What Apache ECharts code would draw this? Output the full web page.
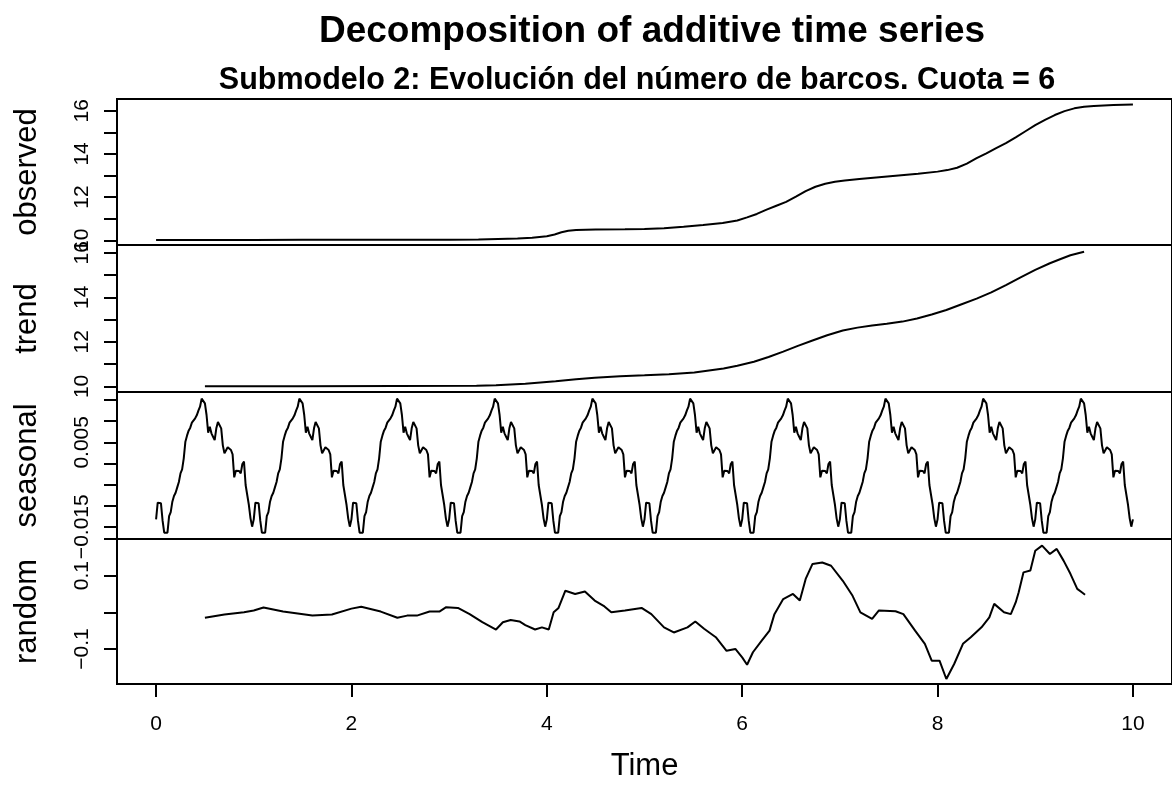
<!DOCTYPE html>
<html>
<head>
<meta charset="utf-8">
<script src="https://cdn.jsdelivr.net/npm/echarts@6/dist/echarts.min.js"></script>
<style>
  html, body { margin: 0; padding: 0; background: #fff; }
  #chart { width: 1172px; height: 786px; }
</style>
</head>
<body>
<div id="chart"></div>
<script>
// ---- data -------------------------------------------------------------
const mainTitle = 'Decomposition of additive time series';
const subTitle = 'Submodelo 2: Evolución del número de barcos. Cuota = 6';
const panelNames = ['observed', 'trend', 'seasonal', 'random'];
const xAxisName = 'Time';

// observed series: [time, value]
const observedPoints = [
  [0.0, 10.01], [0.5, 10.01], [1.0, 10.01], [1.5, 10.02], [2.0, 10.02], [2.5, 10.02],
  [3.0, 10.03], [3.3, 10.04], [3.5, 10.06], [3.7, 10.08], [3.85, 10.12], [4.0, 10.19],
  [4.08, 10.27], [4.15, 10.37], [4.22, 10.44], [4.3, 10.48], [4.5, 10.50], [4.8, 10.51],
  [5.0, 10.52], [5.2, 10.56], [5.4, 10.63], [5.6, 10.71], [5.8, 10.80], [5.95, 10.92],
  [6.05, 11.06], [6.15, 11.22], [6.25, 11.42], [6.35, 11.60], [6.45, 11.78], [6.55, 12.02],
  [6.65, 12.28], [6.75, 12.48], [6.85, 12.62], [6.95, 12.71], [7.05, 12.77], [7.2, 12.84],
  [7.4, 12.92], [7.6, 13.00], [7.8, 13.08], [8.0, 13.18], [8.1, 13.25], [8.2, 13.36],
  [8.3, 13.55], [8.4, 13.80], [8.5, 14.03], [8.6, 14.27], [8.7, 14.50], [8.8, 14.77],
  [8.9, 15.05], [9.0, 15.33], [9.1, 15.58], [9.2, 15.80], [9.3, 15.98], [9.4, 16.11],
  [9.5, 16.18], [9.6, 16.22], [9.8, 16.26], [10.0, 16.29]
];

// trend series (centred moving average, defined from 0.5 to 9.5)
const trendPoints = [
  [0.5, 10.01], [1.45, 10.01], [2.46, 10.02], [3.28, 10.03], [3.48, 10.05], [3.78, 10.12],
  [4.09, 10.23], [4.3, 10.32], [4.49, 10.39], [4.75, 10.46], [5.0, 10.50], [5.25, 10.55],
  [5.51, 10.62], [5.81, 10.80], [5.95, 10.93], [6.12, 11.11], [6.27, 11.32], [6.42, 11.56],
  [6.57, 11.82], [6.72, 12.06], [6.87, 12.30], [7.03, 12.51], [7.18, 12.64], [7.33, 12.73],
  [7.48, 12.81], [7.64, 12.91], [7.79, 13.05], [7.94, 13.23], [8.09, 13.43], [8.24, 13.68],
  [8.4, 13.94], [8.55, 14.22], [8.7, 14.55], [8.85, 14.90], [9.0, 15.23], [9.15, 15.53],
  [9.26, 15.72], [9.36, 15.89], [9.5, 16.05]
];

// one seasonal cycle, 60 observations per unit of time
const seasonalCycle = [
  -0.01326, -0.00931, -0.00978, -0.00946, -0.01357, -0.01642, -0.01657, -0.01642, -0.01247, -0.01152,
  -0.00907, -0.00773, -0.00694, -0.00567, -0.00441, -0.00235, -0.00141, 0.00120, 0.00515, 0.00657,
  0.00776, 0.00847, 0.00965, 0.00949, 0.01068, 0.01139, 0.01250, 0.01344, 0.01534, 0.01550,
  0.01423, 0.01147, 0.00728, 0.00870, 0.00712, 0.00633, 0.00554, 0.00831, 0.00981, 0.00989,
  0.00831, 0.00428, 0.00239, 0.00254, 0.00381, 0.00373, 0.00318, 0.00215, -0.00330, -0.00172,
  -0.00196, -0.00180, -0.00235, -0.00014, 0.00041, -0.00512, -0.00749, -0.00986, -0.01302, -0.01499
];
const seasonalFrequency = 60;
const seasonalCycles = 10;

// remainder series (defined from 0.5 to 9.5)
const randomPoints = [
  [0.5, -0.015], [0.7, -0.006], [0.9, 0.000], [1.0, 0.005], [1.1, 0.013], [1.3, 0.002],
  [1.6, -0.009], [1.8, -0.006], [2.0, 0.010], [2.1, 0.015], [2.3, 0.002], [2.47, -0.015],
  [2.57, -0.009], [2.67, -0.009], [2.80, 0.002], [2.90, 0.002], [2.97, 0.014], [3.09, 0.012],
  [3.21, -0.005], [3.34, -0.027], [3.48, -0.047], [3.55, -0.027], [3.63, -0.021], [3.72, -0.025],
  [3.78, -0.035], [3.88, -0.047], [3.95, -0.041], [4.02, -0.047], [4.07, 0.000], [4.12, 0.012],
  [4.19, 0.059], [4.29, 0.050], [4.39, 0.057], [4.49, 0.032], [4.59, 0.016], [4.66, 0.000],
  [4.80, 0.005], [4.97, 0.012], [5.07, -0.005], [5.20, -0.041], [5.30, -0.055], [5.44, -0.041],
  [5.52, -0.025], [5.61, -0.045], [5.73, -0.068], [5.84, -0.105], [5.93, -0.100], [6.00, -0.123],
  [6.05, -0.143], [6.11, -0.109], [6.20, -0.077], [6.28, -0.050], [6.33, -0.005], [6.42, 0.036],
  [6.52, 0.050], [6.59, 0.032], [6.65, 0.091], [6.72, 0.132], [6.82, 0.136], [6.91, 0.127],
  [7.03, 0.086], [7.13, 0.045], [7.21, 0.000], [7.33, -0.018], [7.40, 0.005], [7.57, 0.003],
  [7.65, -0.005], [7.77, -0.050], [7.87, -0.086], [7.94, -0.132], [8.02, -0.132], [8.09, -0.182],
  [8.17, -0.141], [8.26, -0.086], [8.34, -0.068], [8.45, -0.041], [8.53, -0.014], [8.58, 0.023],
  [8.68, 0.000], [8.75, -0.005], [8.80, 0.027], [8.83, 0.054], [8.88, 0.109], [8.95, 0.114],
  [9.00, 0.168], [9.07, 0.182], [9.15, 0.159], [9.22, 0.173], [9.29, 0.141], [9.36, 0.105],
  [9.43, 0.064], [9.48, 0.054], [9.51, 0.048]
];

// axis ticks and labels
const timeTicks = [0, 2, 4, 6, 8, 10];
const observedTicks = [10, 11, 12, 13, 14, 15, 16];
const observedLabels = [10, 12, 14, 16];
const trendTicks = [10, 11, 12, 13, 14, 15, 16];
const trendLabels = [10, 12, 14, 16];
const seasonalTicks = [-0.015, -0.01, -0.005, 0, 0.005, 0.01, 0.015];
const seasonalLabels = [-0.015, 0.005];
const randomTicks = [-0.1, 0, 0.1, 0.2];
const randomLabels = [-0.1, 0.1];

// ---- build ------------------------------------------------------------
const seasonalPoints = [];
for (let c = 0; c < seasonalCycles; c++) {
  seasonalCycle.forEach((v, k) => seasonalPoints.push([c + k / seasonalFrequency, v]));
}
seasonalPoints.push([seasonalCycles, seasonalCycle[0]]);

const FONT = '"Liberation Sans", Arial, Helvetica, sans-serif';
const panelTops = [99, 245, 392, 539];
const panelHeights = [146, 147, 147, 145];
const yRanges = [[9.782, 16.543], [9.748, 16.351], [-0.01791, 0.01692], [-0.1956, 0.2]];
const tickSets = [observedTicks, trendTicks, seasonalTicks, randomTicks];
const labelSets = [observedLabels, trendLabels, seasonalLabels, randomLabels];
const seriesData = [observedPoints, trendPoints, seasonalPoints, randomPoints];

const fmt = v => (v < 0 ? '\u2212' + String(Math.abs(v)) : String(v));

const option = {
  animation: false,
  backgroundColor: '#fff',
  title: [
    { text: mainTitle, left: 652, top: 13, textAlign: 'center', padding: 0,
      textStyle: { fontFamily: FONT, fontSize: 37, fontWeight: 'bold', color: '#000' } },
    { text: subTitle, left: 637, top: 65, textAlign: 'center', padding: 0,
      textStyle: { fontFamily: FONT, fontSize: 30.5, fontWeight: 'bold', color: '#000' } }
  ],
  grid: panelTops.map((t, i) => ({
    left: 117, top: t, width: 1066, height: panelHeights[i],
    show: true, borderColor: '#000', borderWidth: 2, backgroundColor: 'transparent'
  })),
  xAxis: panelTops.map((t, i) => {
    const last = i === panelTops.length - 1;
    return {
      type: 'value', gridIndex: i, min: -0.4, max: 10.4,
      splitLine: { show: false },
      axisLine: { show: last, onZero: false, lineStyle: { color: '#000', width: 2 } },
      axisTick: { show: last, length: 13, customValues: timeTicks, lineStyle: { color: '#000', width: 2 } },
      axisLabel: { show: last, margin: 30, customValues: timeTicks, color: '#000',
                   fontFamily: FONT, fontSize: 21, formatter: fmt },
      name: last ? xAxisName : '', nameLocation: 'middle', nameGap: 67,
      nameTextStyle: { fontFamily: FONT, fontSize: 31, color: '#000' }
    };
  }),
  yAxis: panelTops.map((t, i) => ({
    type: 'value', gridIndex: i, min: yRanges[i][0], max: yRanges[i][1],
    splitLine: { show: false },
    axisLine: { show: true, onZero: false, lineStyle: { color: '#000', width: 2 } },
    axisTick: { show: true, length: 13, customValues: tickSets[i], lineStyle: { color: '#000', width: 2 } },
    axisLabel: { show: true, rotate: 90, margin: 24, customValues: labelSets[i], color: '#000',
                 fontFamily: FONT, fontSize: 21, formatter: fmt, hideOverlap: false },
    name: panelNames[i], nameLocation: 'middle', nameRotate: 90, nameGap: 74,
    nameTextStyle: { fontFamily: FONT, fontSize: 31, color: '#000' }
  })),
  series: seriesData.map((d, i) => ({
    type: 'line', xAxisIndex: i, yAxisIndex: i, data: d,
    showSymbol: false, symbol: 'none', silent: true,
    lineStyle: { color: '#000', width: 2 }
  }))
};

const chart = echarts.init(document.getElementById('chart'), null, { renderer: 'canvas' });
chart.setOption(option);
</script>
</body>
</html>
